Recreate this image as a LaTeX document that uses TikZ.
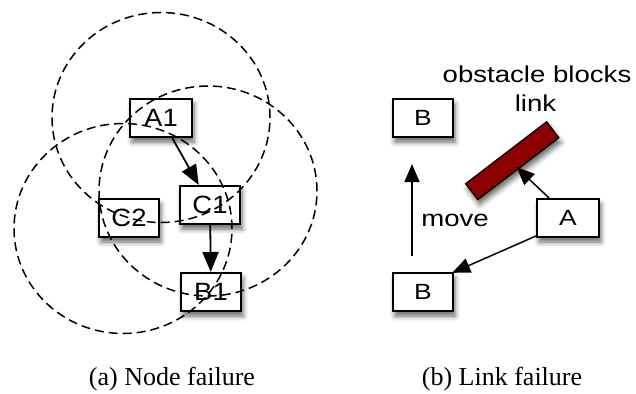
\documentclass[tikz,border=0pt]{standalone}
\usepackage{fontspec}
\setmainfont{Liberation Serif}
\newfontfamily\dsans[FakeStretch=1.1]{Liberation Sans}
\newfontfamily\rsans[FakeStretch=1.2]{Liberation Sans}
\usetikzlibrary{arrows.meta,shadows.blur}
\definecolor{obst}{RGB}{140,0,0}
\begin{document}
\begin{tikzpicture}[x=1pt,y=-1pt,
  shad/.style={blur shadow={shadow xshift=2pt,shadow yshift=-5pt,shadow blur radius=5pt,shadow opacity=60}},
  lbox/.style={draw,line width=2pt,fill=white,minimum width=60pt,minimum height=38pt,inner sep=0pt,shad,font=\dsans\fontsize{25}{28}\selectfont},
  rbox/.style={draw,line width=2pt,fill=white,minimum width=60pt,minimum height=38pt,inner sep=0pt,shad,font=\rsans\fontsize{22}{26}\selectfont},
  obstacle/.style={draw,line width=1.3pt,fill=obst,minimum width=102pt,minimum height=20pt,inner sep=0pt,shad},
  circ/.style={dash pattern=on 9pt off 5pt,line width=1.5pt},
  arr/.style={-{Triangle[length=20pt,width=16pt]},line width=1.8pt},
  rarr/.style={-{Triangle[length=18pt,width=15pt]},line width=1.5pt},
  rtext/.style={anchor=base,inner sep=0pt,font=\rsans\fontsize{23}{28}\selectfont},
  captext/.style={anchor=base,inner sep=0pt,font=\fontsize{26}{30}\selectfont}]
\useasboundingbox (0,0) rectangle (636,393);
% (a) node failure
\node[lbox,minimum width=62pt] (A1) at (161,118) {A1};
\node[lbox] (C1) at (210,205) {C1};
\node[lbox] (C2) at (129,218) {C2};
\node[lbox] (B1) at (211,292) {B1};
\draw[circ] (161,117.5) ellipse[x radius=109pt,y radius=105pt];
\draw[circ] (208,191) ellipse[x radius=109pt,y radius=105pt];
\draw[circ] (123,228.5) ellipse[x radius=109pt,y radius=105pt];
\draw[arr] (A1) -- (C1);
\draw[arr] (C1) -- (B1);
% (b) link failure
\node[rbox] (Bt) at (423,118) {B};
\node[rbox] (Bb) at (423,292) {B};
\node[rbox,minimum width=62pt] (A) at (568,218) {A};
\node[obstacle,rotate=37.4] (O) at (512.2,160.7) {};
\node[rtext] (obs) at (537,83) {obstacle blocks};
\node[rtext] (lnk) at (535.5,111.7) {link};
\node[rtext] (mv) at (455,226.7) {move};
\draw[rarr,shorten <=16pt,shorten >=26pt] ([xshift=-11pt]Bb.north) -- ([xshift=-11pt]Bt.south);
\draw[rarr,shorten >=-3pt] ([xshift=-19pt]A.north) -- (O.south);
\draw[rarr,shorten >=-2pt] ([yshift=2pt]A.south west) -- (Bb.north east);
% captions
\node[captext] (capa) at (172,385) {(a) Node failure};
\node[captext] (capb) at (502,385) {(b) Link failure};
\end{tikzpicture}
\end{document}
